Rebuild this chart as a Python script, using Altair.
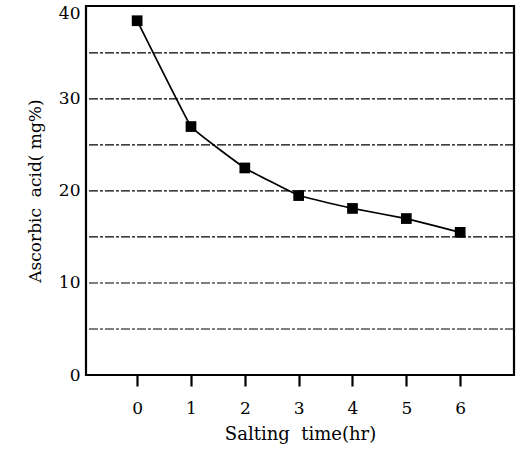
import altair as alt
import pandas as pd

hours = [0, 1, 2, 3, 4, 5, 6]
ascorbic = [38.5, 27.0, 22.5, 19.5, 18.1, 17.0, 15.5]
grid_levels = [5, 10, 15, 20, 25, 30, 35]

df = pd.DataFrame({"hour": hours, "acid": ascorbic})
gdf = pd.DataFrame({"level": grid_levels})

FONT = "DejaVu Serif"

xscale = alt.Scale(domain=[-0.95, 7.0], nice=False, zero=False)
yscale = alt.Scale(domain=[0, 40.1], nice=False)

grid = alt.Chart(gdf).mark_rule(color="black", strokeWidth=1.2, strokeDash=[9, 2, 3, 2]).encode(
    y=alt.Y("level:Q", scale=yscale)
)

line = alt.Chart(df).mark_line(color="black", strokeWidth=1.7, interpolate="cardinal", tension=0.8).encode(
    x=alt.X("hour:Q", scale=xscale,
            axis=alt.Axis(values=hours, title="Salting\u00a0\u00a0time(hr)", grid=False, domain=False,
                          tickSize=11, tickWidth=2.2, tickColor="black", labelPadding=14,
                          labelFontSize=17, labelFont=FONT, labelColor="black",
                          titleFont=FONT, titleFontSize=18, titleFontWeight="normal",
                          titleColor="black", titlePadding=9, format="d")),
    y=alt.Y("acid:Q", scale=yscale,
            axis=alt.Axis(values=[0, 10, 20, 30, 40], title="Ascorbic\u00a0\u00a0acid(\u00a0mg%)", grid=False,
                          domain=False, ticks=False, labelPadding=6, labelFontSize=17,
                          labelFont=FONT, labelColor="black", titleFont=FONT, titleFontSize=17,
                          titleFontWeight="normal", titleColor="black", titlePadding=14,
                          labelOffset={"condition": {"test": "datum.value == 40", "value": 7}, "value": 0})),
)

pts = alt.Chart(df).mark_square(color="black", size=115, opacity=1).encode(
    x=alt.X("hour:Q", scale=xscale),
    y=alt.Y("acid:Q", scale=yscale),
)

chart = alt.layer(grid, line, pts).properties(
    width=428, height=369,
    background="white",
    autosize=alt.AutoSizeParams(type="none"),
    padding={"left": 86, "top": 6, "right": 4, "bottom": 79},
).configure_view(stroke="black", strokeWidth=2.2)

chart.save("out.html", embed_options={"renderer": "svg", "actions": False})
